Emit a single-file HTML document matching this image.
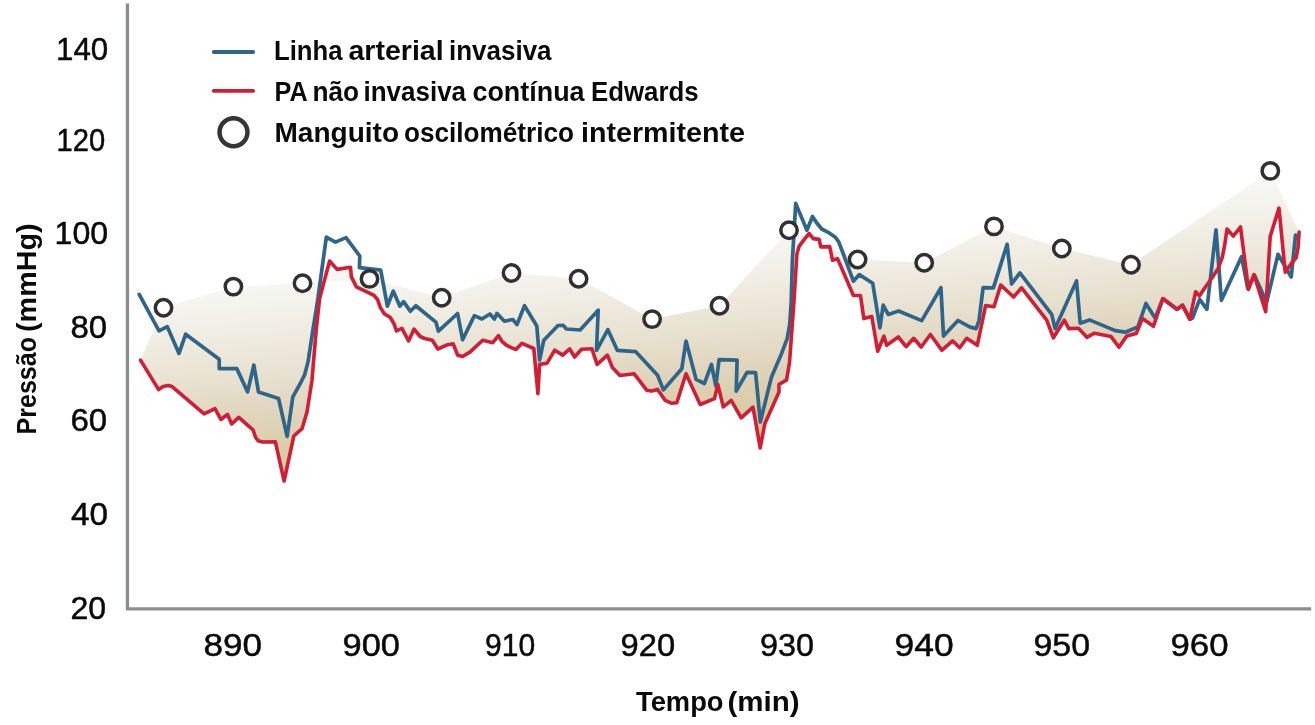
<!DOCTYPE html>
<html><head><meta charset="utf-8"><title>Chart</title>
<style>html,body{margin:0;padding:0;background:#fff}body{width:1315px;height:725px;overflow:hidden;font-family:"Liberation Sans",sans-serif}svg{display:block}</style>
</head><body>
<svg width="1315" height="725" viewBox="0 0 1315 725">
<defs><linearGradient id="g" gradientUnits="userSpaceOnUse" x1="270.00" y1="240.00" x2="294.75" y2="487.52"><stop offset="0.0000" stop-color="#fcfcfb"/><stop offset="0.1720" stop-color="#f7f7f3"/><stop offset="0.2400" stop-color="#f4f4ee"/><stop offset="0.3880" stop-color="#efebe0"/><stop offset="0.5600" stop-color="#e7e0ce"/><stop offset="0.7200" stop-color="#dfd3ba"/><stop offset="0.9040" stop-color="#d8caa0"/><stop offset="1.0000" stop-color="#d5c696"/></linearGradient></defs>
<rect width="1315" height="725" fill="#fff"/>
<polygon points="140.5,360.1 163.5,307.8 233.4,286.6 302.5,283.2 369.5,278.9 441.7,297.8 511.5,273.0 578.6,278.8 652.1,319.1 719.5,305.7 789.0,230.2 857.6,259.5 924.2,262.8 994.0,226.4 1061.8,248.5 1131.0,264.7 1270.3,170.9 1299.1,232.1 1299.1,232.1 1298.0,248.0 1296.2,257.5 1291.2,263.7 1285.2,272.2 1279.0,208.1 1270.2,236.5 1265.7,311.7 1253.9,274.5 1248.5,289.5 1240.5,227.0 1233.3,236.1 1227.0,229.0 1224.7,245.2 1222.2,257.7 1218.0,268.6 1212.1,277.8 1205.4,287.0 1199.4,296.0 1195.6,291.8 1189.8,319.3 1182.5,305.2 1177.1,309.3 1162.8,298.5 1153.5,326.2 1142.4,318.5 1136.2,333.6 1126.7,336.1 1119.0,347.3 1111.1,336.6 1094.4,333.2 1086.9,337.3 1078.5,328.2 1068.8,328.6 1064.3,320.2 1053.4,337.8 1046.7,320.2 1021.6,287.8 1013.6,297.0 1000.7,285.0 994.0,306.8 985.6,305.6 977.3,345.3 966.7,338.3 959.7,347.8 952.5,340.8 941.8,350.3 930.4,334.5 921.2,347.0 913.7,338.3 906.1,346.7 898.3,337.0 886.6,345.3 883.9,336.1 877.7,351.2 871.8,316.5 863.8,318.6 860.5,295.5 853.4,295.5 837.5,258.6 832.5,260.3 829.7,246.6 820.8,246.9 819.1,239.4 813.3,238.6 809.1,233.5 804.1,239.6 799.1,246.3 796.9,254.0 794.0,301.0 789.5,362.5 786.5,380.2 779.0,384.3 779.0,391.9 764.8,423.7 760.2,448.0 753.0,407.1 741.2,417.8 731.2,400.3 723.3,407.0 717.8,384.4 714.5,398.6 700.2,404.5 686.0,373.8 676.8,402.8 671.8,403.3 665.1,400.3 657.6,389.4 651.7,391.1 646.7,390.2 634.2,373.8 619.9,375.5 612.4,367.6 607.4,355.2 597.1,364.4 591.8,348.7 581.5,349.3 574.6,357.0 569.7,348.8 562.7,355.1 554.7,350.2 547.1,363.2 539.6,364.4 537.9,393.7 533.8,348.5 522.0,343.3 516.0,349.5 511.8,347.9 506.3,345.2 501.9,341.3 498.5,335.7 492.8,342.7 482.7,340.2 470.2,351.9 462.6,356.5 457.6,355.2 453.2,343.8 446.6,345.1 437.8,349.0 432.3,340.2 424.6,338.5 420.1,336.5 414.1,329.1 408.6,340.9 401.9,328.3 396.4,331.0 394.2,324.1 390.3,317.5 384.3,313.7 380.4,307.6 377.5,299.5 374.0,295.3 356.4,286.9 351.4,276.9 350.5,267.3 337.1,269.4 329.6,261.0 319.6,298.6 316.2,330.0 312.0,380.2 307.0,412.0 302.0,428.7 293.8,436.0 284.1,481.0 275.4,441.8 262.5,442.0 258.2,440.8 255.6,437.5 253.2,430.2 238.8,417.3 231.7,424.0 227.5,414.5 220.9,419.5 215.0,408.6 204.1,413.9 172.1,386.6 168.2,385.5 163.2,386.5 158.6,389.6 140.5,360.1" fill="url(#g)"/>
<polyline points="139.2,294.4 159.0,330.8 167.3,326.7 179.0,353.4 185.7,334.2 219.2,359.3 219.2,368.6 236.8,368.6 247.6,391.9 253.8,365.1 258.5,391.9 278.6,398.6 287.1,436.4 292.8,396.9 300.0,384.0 304.5,375.2 308.0,362.0 311.2,341.0 312.9,330.0 318.0,298.0 326.3,237.2 335.5,242.1 346.0,237.6 359.8,256.0 359.4,267.7 380.7,270.2 387.4,306.2 393.2,291.1 399.9,306.2 403.6,301.6 410.3,311.2 415.8,305.7 435.9,322.1 438.4,331.2 457.6,313.5 462.6,339.7 474.4,315.6 481.9,319.0 489.9,314.0 494.4,319.0 496.9,313.4 504.5,321.2 512.8,319.5 517.0,324.6 524.5,305.6 536.8,326.0 539.6,360.2 543.8,340.2 558.0,325.5 563.1,325.3 566.4,329.0 580.1,330.0 598.2,310.2 596.5,350.4 607.9,329.7 617.4,350.4 635.8,351.7 657.6,375.2 663.4,389.9 681.8,368.8 686.0,341.0 696.1,379.4 704.4,383.5 711.5,364.4 715.8,386.0 719.0,359.7 737.1,360.1 736.2,391.1 747.1,372.3 755.6,372.6 760.3,422.0 771.5,376.9 781.5,353.7 787.2,338.6 789.8,323.6 791.2,301.8 792.4,260.0 795.7,203.4 806.9,230.2 812.5,216.5 816.8,223.0 821.7,229.0 829.2,232.9 835.0,236.9 838.6,241.6 842.8,252.5 853.4,281.2 859.3,274.6 872.7,283.2 879.9,327.8 883.2,305.2 888.2,314.4 898.6,311.0 921.7,320.6 940.9,287.7 943.5,336.1 958.0,320.5 969.7,326.9 976.1,328.6 979.0,320.5 983.1,287.7 993.4,287.9 1007.1,244.3 1011.6,284.0 1019.9,272.9 1051.7,314.4 1055.1,328.6 1076.5,281.0 1080.2,323.2 1089.4,319.9 1115.3,330.6 1125.3,332.2 1137.9,326.9 1145.9,303.5 1155.2,318.2 1162.8,298.8 1177.1,309.4 1182.5,305.3 1189.9,319.2 1192.5,318.0 1199.7,299.4 1206.9,309.3 1216.0,229.8 1221.4,300.3 1241.6,256.6 1247.6,288.0 1254.6,275.5 1266.6,302.5 1278.0,254.3 1291.2,277.0 1295.5,235.2" fill="none" stroke="#30658a" stroke-width="3.7" stroke-linejoin="round" stroke-linecap="round"/>
<polyline points="140.5,360.1 158.6,389.6 163.2,386.5 168.2,385.5 172.1,386.6 204.1,413.9 215.0,408.6 220.9,419.5 227.5,414.5 231.7,424.0 238.8,417.3 253.2,430.2 255.6,437.5 258.2,440.8 262.5,442.0 275.4,441.8 284.1,481.0 293.8,436.0 302.0,428.7 307.0,412.0 312.0,380.2 316.2,330.0 319.6,298.6 329.6,261.0 337.1,269.4 350.5,267.3 351.4,276.9 356.4,286.9 374.0,295.3 377.5,299.5 380.4,307.6 384.3,313.7 390.3,317.5 394.2,324.1 396.4,331.0 401.9,328.3 408.6,340.9 414.1,329.1 420.1,336.5 424.6,338.5 432.3,340.2 437.8,349.0 446.6,345.1 453.2,343.8 457.6,355.2 462.6,356.5 470.2,351.9 482.7,340.2 492.8,342.7 498.5,335.7 501.9,341.3 506.3,345.2 511.8,347.9 516.0,349.5 522.0,343.3 533.8,348.5 537.9,393.7 539.6,364.4 547.1,363.2 554.7,350.2 562.7,355.1 569.7,348.8 574.6,357.0 581.5,349.3 591.8,348.7 597.1,364.4 607.4,355.2 612.4,367.6 619.9,375.5 634.2,373.8 646.7,390.2 651.7,391.1 657.6,389.4 665.1,400.3 671.8,403.3 676.8,402.8 686.0,373.8 700.2,404.5 714.5,398.6 717.8,384.4 723.3,407.0 731.2,400.3 741.2,417.8 753.0,407.1 760.2,448.0 764.8,423.7 779.0,391.9 779.0,384.3 786.5,380.2 789.5,362.5 794.0,301.0 796.9,254.0 799.1,246.3 804.1,239.6 809.1,233.5 813.3,238.6 819.1,239.4 820.8,246.9 829.7,246.6 832.5,260.3 837.5,258.6 853.4,295.5 860.5,295.5 863.8,318.6 871.8,316.5 877.7,351.2 883.9,336.1 886.6,345.3 898.3,337.0 906.1,346.7 913.7,338.3 921.2,347.0 930.4,334.5 941.8,350.3 952.5,340.8 959.7,347.8 966.7,338.3 977.3,345.3 985.6,305.6 994.0,306.8 1000.7,285.0 1013.6,297.0 1021.6,287.8 1046.7,320.2 1053.4,337.8 1064.3,320.2 1068.8,328.6 1078.5,328.2 1086.9,337.3 1094.4,333.2 1111.1,336.6 1119.0,347.3 1126.7,336.1 1136.2,333.6 1142.4,318.5 1153.5,326.2 1162.8,298.5 1177.1,309.3 1182.5,305.2 1189.8,319.3 1195.6,291.8 1199.4,296.0 1205.4,287.0 1212.1,277.8 1218.0,268.6 1222.2,257.7 1224.7,245.2 1227.0,229.0 1233.3,236.1 1240.5,227.0 1248.5,289.5 1253.9,274.5 1265.7,311.7 1270.2,236.5 1279.0,208.1 1285.2,272.2 1291.2,263.7 1296.2,257.5 1298.0,248.0 1299.1,232.1" fill="none" stroke="#d21d36" stroke-width="3.6" stroke-linejoin="round" stroke-linecap="round"/>
<circle cx="163.5" cy="307.8" r="8.2" fill="#fff" stroke="#303030" stroke-width="3.5"/>
<circle cx="233.4" cy="286.6" r="8.2" fill="#fff" stroke="#303030" stroke-width="3.5"/>
<circle cx="302.5" cy="283.2" r="8.2" fill="#fff" stroke="#303030" stroke-width="3.5"/>
<circle cx="369.5" cy="278.9" r="8.2" fill="#fff" stroke="#303030" stroke-width="3.5"/>
<circle cx="441.7" cy="297.8" r="8.2" fill="#fff" stroke="#303030" stroke-width="3.5"/>
<circle cx="511.5" cy="273.0" r="8.2" fill="#fff" stroke="#303030" stroke-width="3.5"/>
<circle cx="578.6" cy="278.8" r="8.2" fill="#fff" stroke="#303030" stroke-width="3.5"/>
<circle cx="652.1" cy="319.1" r="8.2" fill="#fff" stroke="#303030" stroke-width="3.5"/>
<circle cx="719.5" cy="305.7" r="8.2" fill="#fff" stroke="#303030" stroke-width="3.5"/>
<circle cx="789.0" cy="230.2" r="8.2" fill="#fff" stroke="#303030" stroke-width="3.5"/>
<circle cx="857.6" cy="259.5" r="8.2" fill="#fff" stroke="#303030" stroke-width="3.5"/>
<circle cx="924.2" cy="262.8" r="8.2" fill="#fff" stroke="#303030" stroke-width="3.5"/>
<circle cx="994.0" cy="226.4" r="8.2" fill="#fff" stroke="#303030" stroke-width="3.5"/>
<circle cx="1061.8" cy="248.5" r="8.2" fill="#fff" stroke="#303030" stroke-width="3.5"/>
<circle cx="1131.0" cy="264.7" r="8.2" fill="#fff" stroke="#303030" stroke-width="3.5"/>
<circle cx="1270.3" cy="170.9" r="8.2" fill="#fff" stroke="#303030" stroke-width="3.5"/>
<path d="M127.45 3.4 V608.9 H1311.2" fill="none" stroke="#8b8e8d" stroke-width="3.3" stroke-linejoin="miter"/>
<line x1="213.8" y1="52" x2="253.1" y2="52" stroke="#30658a" stroke-width="4" stroke-linecap="round"/>
<line x1="213.6" y1="90.9" x2="253.3" y2="90.9" stroke="#d21d36" stroke-width="3.6" stroke-linecap="round"/>
<circle cx="233.5" cy="132.3" r="13.95" fill="#fff" stroke="#353535" stroke-width="4.5"/>
<g font-family="Liberation Sans, sans-serif" fill="#0a0a0a" style="opacity:0.999">
<text x="56.00" y="59.70" font-size="32.0" font-weight="normal" textLength="52.21" lengthAdjust="spacingAndGlyphs" stroke="#0a0a0a" stroke-width="0.50">140</text>
<text x="56.50" y="151.10" font-size="32.0" font-weight="normal" textLength="48.64" lengthAdjust="spacingAndGlyphs" stroke="#0a0a0a" stroke-width="0.50">120</text>
<text x="54.50" y="243.50" font-size="32.0" font-weight="normal" textLength="53.66" lengthAdjust="spacingAndGlyphs" stroke="#0a0a0a" stroke-width="0.50">100</text>
<text x="70.50" y="338.00" font-size="32.0" font-weight="normal" textLength="36.67" lengthAdjust="spacingAndGlyphs" stroke="#0a0a0a" stroke-width="0.50">80</text>
<text x="70.50" y="431.10" font-size="32.0" font-weight="normal" textLength="36.67" lengthAdjust="spacingAndGlyphs" stroke="#0a0a0a" stroke-width="0.50">60</text>
<text x="71.00" y="524.90" font-size="32.0" font-weight="normal" textLength="37.04" lengthAdjust="spacingAndGlyphs" stroke="#0a0a0a" stroke-width="0.50">40</text>
<text x="70.50" y="619.10" font-size="32.0" font-weight="normal" textLength="35.70" lengthAdjust="spacingAndGlyphs" stroke="#0a0a0a" stroke-width="0.50">20</text>
<text x="203.50" y="655.90" font-size="32.0" font-weight="normal" textLength="58.60" lengthAdjust="spacingAndGlyphs" stroke="#0a0a0a" stroke-width="0.50">890</text>
<text x="342.50" y="655.90" font-size="32.0" font-weight="normal" textLength="57.56" lengthAdjust="spacingAndGlyphs" stroke="#0a0a0a" stroke-width="0.50">900</text>
<text x="485.00" y="655.90" font-size="32.0" font-weight="normal" textLength="50.10" lengthAdjust="spacingAndGlyphs" stroke="#0a0a0a" stroke-width="0.50">910</text>
<text x="620.50" y="655.90" font-size="32.0" font-weight="normal" textLength="54.61" lengthAdjust="spacingAndGlyphs" stroke="#0a0a0a" stroke-width="0.50">920</text>
<text x="760.00" y="655.90" font-size="32.0" font-weight="normal" textLength="54.09" lengthAdjust="spacingAndGlyphs" stroke="#0a0a0a" stroke-width="0.50">930</text>
<text x="894.50" y="655.90" font-size="32.0" font-weight="normal" textLength="59.12" lengthAdjust="spacingAndGlyphs" stroke="#0a0a0a" stroke-width="0.50">940</text>
<text x="1033.50" y="655.90" font-size="32.0" font-weight="normal" textLength="56.60" lengthAdjust="spacingAndGlyphs" stroke="#0a0a0a" stroke-width="0.50">950</text>
<text x="1170.50" y="655.90" font-size="32.0" font-weight="normal" textLength="58.10" lengthAdjust="spacingAndGlyphs" stroke="#0a0a0a" stroke-width="0.50">960</text>
<text x="274.00" y="59.60" font-size="27.0" font-weight="bold" textLength="68.54" lengthAdjust="spacingAndGlyphs">Linha</text>
<text x="348.50" y="59.60" font-size="27.0" font-weight="bold" textLength="95.07" lengthAdjust="spacingAndGlyphs">arterial</text>
<text x="449.00" y="59.60" font-size="27.0" font-weight="bold" textLength="102.54" lengthAdjust="spacingAndGlyphs">invasiva</text>
<text x="274.50" y="100.70" font-size="27.0" font-weight="bold" textLength="33.16" lengthAdjust="spacingAndGlyphs">PA</text>
<text x="312.50" y="100.70" font-size="27.0" font-weight="bold" textLength="46.65" lengthAdjust="spacingAndGlyphs">não</text>
<text x="363.50" y="100.70" font-size="27.0" font-weight="bold" textLength="102.53" lengthAdjust="spacingAndGlyphs">invasiva</text>
<text x="472.50" y="100.70" font-size="27.0" font-weight="bold" textLength="112.02" lengthAdjust="spacingAndGlyphs">contínua</text>
<text x="591.00" y="100.70" font-size="27.0" font-weight="bold" textLength="107.61" lengthAdjust="spacingAndGlyphs">Edwards</text>
<text x="274.50" y="141.60" font-size="27.0" font-weight="bold" textLength="124.57" lengthAdjust="spacingAndGlyphs">Manguito</text>
<text x="404.00" y="141.60" font-size="27.0" font-weight="bold" textLength="170.04" lengthAdjust="spacingAndGlyphs">oscilométrico</text>
<text x="581.00" y="141.60" font-size="27.0" font-weight="bold" textLength="164.06" lengthAdjust="spacingAndGlyphs">intermitente</text>
<text x="636.00" y="710.80" font-size="27.0" font-weight="bold" textLength="87.54" lengthAdjust="spacingAndGlyphs">Tempo</text>
<text x="727.50" y="710.80" font-size="27.0" font-weight="bold" textLength="72.14" lengthAdjust="spacingAndGlyphs">(min)</text>
<text x="0" y="0" transform="translate(35.70,434.50) rotate(-90)" font-size="27.0" font-weight="bold" textLength="97.56" lengthAdjust="spacingAndGlyphs">Pressão</text>
<text x="0" y="0" transform="translate(35.70,332.00) rotate(-90)" font-size="27.0" font-weight="bold" textLength="108.58" lengthAdjust="spacingAndGlyphs">(mmHg)</text>
</g>
</svg>
</body></html>
